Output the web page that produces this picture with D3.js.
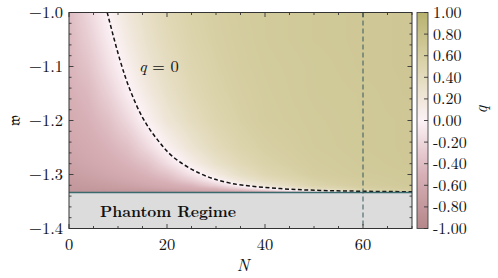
<!DOCTYPE html>
<html lang="en">
<head>
    <meta charset="UTF-8">
    <title>q map</title>
    <style>
        body { margin: 0; background: #fff; }
        .frame { fill: none; stroke: #333; stroke-width: 1; }
        .tick { stroke: #333; stroke-width: 0.9; }
    </style>
</head>
<body>
    <div id="chart"></div>

    <script src="https://d3js.org/d3.v7.min.js"></script>
    <script>
        // grid of q values (rows = w, columns = N)
        const nGrid = [0, 4, 8, 12, 16, 20, 25, 30, 35, 40, 50, 60, 70];
        const wGrid = [-1.0, -1.05, -1.1, -1.15, -1.2, -1.25, -1.28, -1.3, -1.31, -1.32, -1.325, -1.33, -1.3333];
        const qGrid = [
            [-0.41, -0.20, 0.01, 0.20, 0.34, 0.45, 0.54, 0.59, 0.63, 0.65, 0.68, 0.69, 0.70],
            [-0.44, -0.27, -0.06, 0.14, 0.30, 0.42, 0.52, 0.58, 0.62, 0.65, 0.68, 0.69, 0.70],
            [-0.47, -0.35, -0.14, 0.06, 0.24, 0.37, 0.49, 0.56, 0.61, 0.64, 0.67, 0.69, 0.70],
            [-0.51, -0.43, -0.25, -0.04, 0.15, 0.31, 0.45, 0.54, 0.59, 0.63, 0.67, 0.68, 0.70],
            [-0.56, -0.49, -0.38, -0.19, 0.03, 0.22, 0.38, 0.50, 0.57, 0.62, 0.66, 0.68, 0.69],
            [-0.62, -0.56, -0.48, -0.38, -0.18, 0.03, 0.25, 0.41, 0.52, 0.58, 0.65, 0.68, 0.69],
            [-0.67, -0.61, -0.55, -0.47, -0.37, -0.16, 0.09, 0.30, 0.44, 0.54, 0.63, 0.67, 0.69],
            [-0.72, -0.67, -0.61, -0.55, -0.47, -0.36, -0.11, 0.14, 0.34, 0.47, 0.61, 0.66, 0.68],
            [-0.75, -0.71, -0.66, -0.60, -0.53, -0.45, -0.26, 0.00, 0.23, 0.39, 0.57, 0.64, 0.68],
            [-0.78, -0.75, -0.72, -0.67, -0.61, -0.55, -0.45, -0.24, 0.02, 0.24, 0.52, 0.62, 0.67],
            [-0.79, -0.78, -0.75, -0.72, -0.67, -0.61, -0.53, -0.42, -0.19, 0.07, 0.43, 0.58, 0.65],
            [-0.81, -0.80, -0.79, -0.77, -0.75, -0.71, -0.65, -0.57, -0.47, -0.32, 0.18, 0.48, 0.61],
            [-0.84, -0.83, -0.83, -0.82, -0.81, -0.80, -0.78, -0.76, -0.72, -0.66, -0.49, -0.11, 0.34]
        ];

        // q = 0 contour (N, w)
        const q0Curve = [
            [7.8, -1.0], [10.4, -1.088], [12.4, -1.142], [15.1, -1.196], [18.0, -1.235],
            [21.2, -1.267], [26.7, -1.298], [32.9, -1.316], [43.1, -1.326],
            [51.2, -1.3295], [60, -1.331], [70, -1.332]
        ];

        const phantomW = -4 / 3;
        const markN = 60;

        const xMajor = [0, 20, 40, 60];
        const xMinor = d3.range(0, 71, 5);
        const yMajor = [-1.0, -1.1, -1.2, -1.3, -1.4];
        const yMinor = d3.range(0, 21).map(i => -1.0 - i * 0.02);
        const cbTicks = [1.0, 0.8, 0.6, 0.4, 0.2, 0.0, -0.2, -0.4, -0.6, -0.8, -1.0];

        const W = 498, H = 278;
        const mLeft = 69, mRight = 412, mTop = 12.5, mBottom = 228.5;
        const FONT = "'Latin Modern Roman', 'Liberation Serif', serif";

        const svg = d3.select("#chart").append("svg")
            .attr("width", W)
            .attr("height", H);

        function label(sel) {
            return sel.append("text").style("font-family", FONT).attr("fill", "#111");
        }

        const x = d3.scaleLinear().domain([0, 70]).range([mLeft, mRight]);
        const y = d3.scaleLinear().domain([-1.0, -1.4]).range([mTop, mBottom]);

        const color = d3.scaleLinear()
            .domain([-1, -0.5, 0, 0.5, 1])
            .range(["#b5878a", "#d7b0b6", "#fcf2f6", "#ddd5ae", "#b8b26f"])
            .clamp(true);

        // heat map, drawn on a canvas then placed in the svg
        const py0 = Math.floor(y(-1.0)), py1 = Math.ceil(y(phantomW));
        const cw = Math.round(mRight - mLeft), ch = py1 - py0;
        const canvas = document.createElement("canvas");
        canvas.width = cw; canvas.height = ch;
        const ctx = canvas.getContext("2d");
        const img = ctx.createImageData(cw, ch);
        const wAsc = wGrid.map(d => -d);
        for (let j = 0; j < ch; j++) {
            const w = y.invert(py0 + j + 0.5);
            let r = d3.bisectRight(wAsc, -w) - 1;
            r = Math.max(0, Math.min(wGrid.length - 2, r));
            let tr = (w - wGrid[r]) / (wGrid[r + 1] - wGrid[r]);
            tr = Math.max(0, Math.min(1, tr));
            for (let i = 0; i < cw; i++) {
                const n = x.invert(mLeft + i + 0.5);
                let c = d3.bisectRight(nGrid, n) - 1;
                c = Math.max(0, Math.min(nGrid.length - 2, c));
                const tc = (n - nGrid[c]) / (nGrid[c + 1] - nGrid[c]);
                const a = qGrid[r][c] * (1 - tc) + qGrid[r][c + 1] * tc;
                const b = qGrid[r + 1][c] * (1 - tc) + qGrid[r + 1][c + 1] * tc;
                const col = d3.rgb(color(a * (1 - tr) + b * tr));
                const k = (j * cw + i) * 4;
                img.data[k] = col.r; img.data[k + 1] = col.g; img.data[k + 2] = col.b; img.data[k + 3] = 255;
            }
        }
        ctx.putImageData(img, 0, 0);
        svg.append("image")
            .attr("x", mLeft).attr("y", py0)
            .attr("width", cw).attr("height", ch)
            .attr("preserveAspectRatio", "none")
            .attr("href", canvas.toDataURL());

        // phantom region
        svg.append("rect")
            .attr("x", mLeft).attr("y", y(phantomW))
            .attr("width", mRight - mLeft).attr("height", mBottom - y(phantomW))
            .attr("fill", "#dcdcdc");

        label(svg)
            .attr("x", 168).attr("y", 217)
            .attr("text-anchor", "middle")
            .attr("font-weight", "bold")
            .attr("font-size", 15)
            .attr("textLength", 136)
            .attr("lengthAdjust", "spacingAndGlyphs")
            .text("Phantom Regime");

        // q = 0 contour
        const line = d3.line()
            .x(d => x(d[0]))
            .y(d => y(d[1]))
            .curve(d3.curveCatmullRom.alpha(0.5));
        svg.append("path")
            .datum(q0Curve)
            .attr("d", line)
            .attr("fill", "none")
            .attr("stroke", "#111")
            .attr("stroke-width", 1.5)
            .attr("stroke-dasharray", "4,2.5");

        label(svg)
            .attr("x", 139).attr("y", 72)
            .attr("font-size", 16.5)
            .html('<tspan font-style="italic">q</tspan> = 0');

        // phantom boundary and N = 60 marker
        svg.append("line")
            .attr("x1", mLeft).attr("x2", mRight)
            .attr("y1", y(phantomW)).attr("y2", y(phantomW))
            .attr("stroke", "#3b6a6c").attr("stroke-width", 1.4);

        svg.append("line")
            .attr("x1", x(markN)).attr("x2", x(markN))
            .attr("y1", mTop).attr("y2", mBottom)
            .attr("stroke", "#35585c").attr("stroke-width", 1)
            .attr("stroke-dasharray", "5,3");

        // ticks on all four sides, pointing inward
        const tk = svg.append("g");
        xMinor.forEach(v => {
            const len = xMajor.includes(v) ? 4.5 : 2.5;
            tk.append("line").attr("class", "tick").attr("x1", x(v)).attr("x2", x(v)).attr("y1", mBottom).attr("y2", mBottom - len);
            tk.append("line").attr("class", "tick").attr("x1", x(v)).attr("x2", x(v)).attr("y1", mTop).attr("y2", mTop + len);
        });
        yMinor.forEach(v => {
            const len = yMajor.some(m => Math.abs(m - v) < 1e-6) ? 4.5 : 2.5;
            tk.append("line").attr("class", "tick").attr("x1", mLeft).attr("x2", mLeft + len).attr("y1", y(v)).attr("y2", y(v));
            tk.append("line").attr("class", "tick").attr("x1", mRight).attr("x2", mRight - len).attr("y1", y(v)).attr("y2", y(v));
        });

        svg.append("rect").attr("class", "frame")
            .attr("x", mLeft).attr("y", mTop)
            .attr("width", mRight - mLeft).attr("height", mBottom - mTop);

        // tick labels
        xMajor.forEach(v => {
            label(svg)
                .attr("x", x(v)).attr("y", 250)
                .attr("text-anchor", "middle")
                .attr("font-size", 16.5)
                .text(v);
        });
        yMajor.forEach(v => {
            label(svg)
                .attr("x", 63).attr("y", y(v) + 5.5)
                .attr("text-anchor", "end")
                .attr("font-size", 16.5)
                .text("\u2212" + Math.abs(v).toFixed(1));
        });

        label(svg)
            .attr("x", 243).attr("y", 271)
            .attr("text-anchor", "middle")
            .attr("font-size", 17)
            .attr("font-style", "italic")
            .text("N");

        label(svg)
            .attr("transform", "translate(20," + y(-1.2) + ") rotate(-90)")
            .attr("text-anchor", "middle")
            .attr("font-size", 16)
            .text("\u{1D534}");

        // colour bar
        const cbLeft = 417, cbWidth = 11;
        const cy = d3.scaleLinear().domain([1, -1]).range([mTop, mBottom]);
        const defs = svg.append("defs");
        const grad = defs.append("linearGradient")
            .attr("id", "cbgrad")
            .attr("x1", 0).attr("x2", 0).attr("y1", 1).attr("y2", 0);
        d3.range(0, 21).forEach(i => {
            const v = -1 + i * 0.1;
            grad.append("stop").attr("offset", i / 20).attr("stop-color", color(v));
        });
        svg.append("rect")
            .attr("x", cbLeft).attr("y", mTop)
            .attr("width", cbWidth).attr("height", mBottom - mTop)
            .attr("fill", "url(#cbgrad)")
            .attr("stroke", "#444").attr("stroke-width", 0.9);

        cbTicks.forEach(v => {
            svg.append("line").attr("class", "tick")
                .attr("x1", cbLeft + cbWidth).attr("x2", cbLeft + cbWidth - 4)
                .attr("y1", cy(v)).attr("y2", cy(v));
            label(svg)
                .attr("x", 433).attr("y", cy(v) + 5.5)
                .attr("font-size", 16)
                .text(v.toFixed(2));
        });

        label(svg)
            .attr("transform", "translate(487," + cy(0.1) + ") rotate(-90)")
            .attr("text-anchor", "middle")
            .attr("font-size", 17)
            .attr("font-style", "italic")
            .text("q");
    </script>
</body>
</html>
